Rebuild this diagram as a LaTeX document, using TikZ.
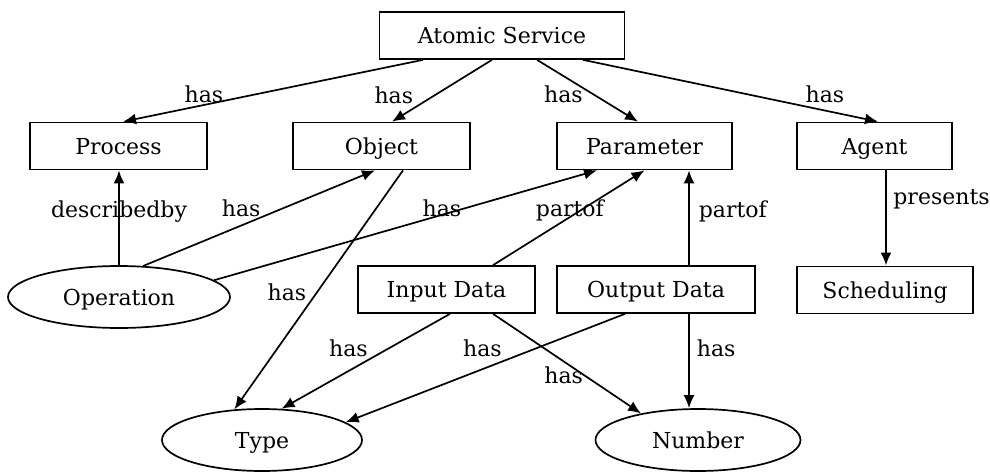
\documentclass[tikz,border=0pt]{standalone}
\usepackage{fontspec}
\setmainfont{DejaVu Serif}
\usetikzlibrary{shapes.geometric, arrows.meta, positioning, calc}
\tikzset{every node/.style={font=\fontsize{22}{26}\selectfont}}

\begin{document}
\begin{tikzpicture}[x=1pt, y=-1pt]
  \tikzstyle{entity} = [rectangle, draw=black, line width=1.7pt, minimum height=47pt, inner sep=0pt, text height=16pt, text depth=0pt, text centered]
  \tikzstyle{concept} = [ellipse, draw=black, line width=1.7pt, minimum height=62pt, inner sep=0pt, text height=16pt, text depth=0pt]
  \tikzstyle{arrow} = [line width=1.7pt, -{Latex[length=13pt, width=11pt]}]
  \tikzstyle{rel} = [inner sep=1pt]
  \path [fill=white, use as bounding box] (0,0) rectangle (990,471);
  \node (atomic) [entity, minimum width=245pt] at (502,35.5) {Atomic Service};
  \node (process) [entity, minimum width=177pt] at (118.5,146) {Process};
  \node (object) [entity, minimum width=177pt] at (381.5,146) {Object};
  \node (parameter) [entity, minimum width=175pt] at (644.5,146) {Parameter};
  \node (agent) [entity, minimum width=155pt] at (874.5,146) {Agent};
  \node (operation) [concept, minimum width=222pt] at (119,297) {Operation};
  \node (input) [entity, minimum width=177pt] at (446.5,289.5) {Input Data};
  \node (output) [entity, minimum width=198pt] at (656,289.5) {Output Data};
  \node (scheduling) [entity, minimum width=176pt] at (885,290) {Scheduling};
  \node (type) [concept, minimum width=200pt] at (262,440) {Type};
  \node (number) [concept, minimum width=205pt] at (698,440) {Number};
  % atomic service
  \draw [arrow] ([xshift=-79pt]atomic.south) -- ([xshift=4.5pt]process.north) node [rel, pos=0.73, above] {has};
  \draw [arrow] ([xshift=-10pt]atomic.south) -- ([xshift=10.5pt]object.north) node [rel, pos=0.57, left=20pt] {has};
  \draw [arrow] ([xshift=35pt]atomic.south) -- ([xshift=-6.5pt]parameter.north) node [rel, pos=0.56, left=9pt] {has};
  \draw [arrow] ([xshift=81pt]atomic.south) -- ([xshift=3.5pt]agent.north) node [rel, pos=0.82, above=6pt] {has};
  % operation
  \draw [arrow, line width=2.3pt] (operation.north) -- (operation.north |- process.south) node [rel, pos=0.57] {describedby};
  \draw [arrow] (operation.52) -- ([xshift=-6.5pt]object.south) node [rel, pos=0.6, left=20pt] {has};
  \draw [arrow] (operation.10) -- ([xshift=-47.5pt]parameter.south) node [rel, pos=0.595, yshift=7pt] {has};
  \draw [arrow] ([xshift=21.5pt]object.south) -- (type.132) node [rel, pos=0.51, left=9pt] {has};
  % data
  \draw [arrow] ([xshift=46.5pt]input.north) -- (parameter.south) node [rel, pos=0.6, xshift=-14pt, yshift=-2pt] {partof};
  \draw [arrow] ([xshift=33pt]output.north) -- ([xshift=33pt]output.north |- parameter.south) node [rel, pos=0.57, right=8pt] {partof};
  \draw [arrow, line width=2.8pt] ([xshift=11.5pt]agent.south) -- ([xshift=11.5pt]agent.south |- scheduling.north) node [rel, pos=0.3, right=5pt] {presents};
  \draw [arrow] ([xshift=3.5pt]input.south) -- (type.58) node [rel, pos=0.365, left=19pt] {has};
  \draw [arrow] ([xshift=-31pt]output.south) -- (type.12) node [rel, pos=0.32, left=32pt] {has};
  \draw [arrow] ([xshift=46.5pt]input.south) -- (number.155) node [rel, pos=0.62, left] {has};
  \draw [arrow] ([xshift=33pt]output.south) -- ([xshift=33pt]output.south |- number.north) node [rel, pos=0.365, right=6pt] {has};
\end{tikzpicture}
\end{document}
